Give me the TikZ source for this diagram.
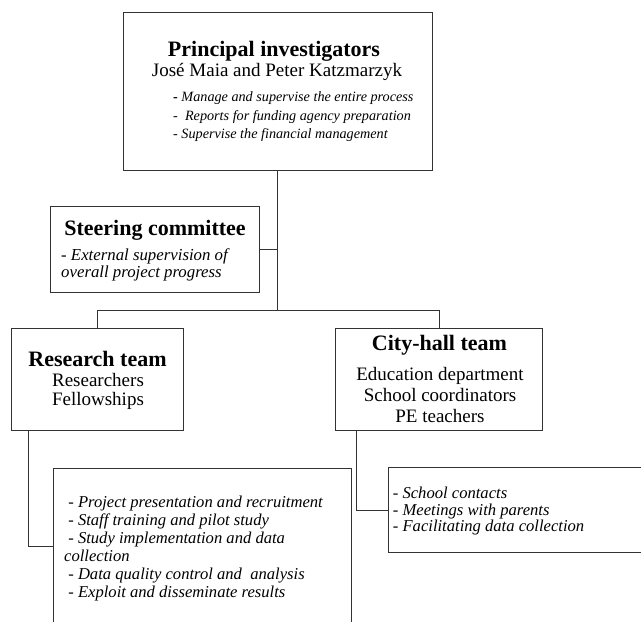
\documentclass[tikz,border=0pt]{standalone}
\usepackage{fontspec}
\setmainfont{Liberation Serif}
\usetikzlibrary{positioning}

\begin{document}
\begin{tikzpicture}[
  x=1pt, y=-1pt,
  box/.style  = {draw=black!80, line width=0.9pt, inner sep=0pt},
  head/.style = {anchor=base, inner sep=0pt, font=\fontsize{22}{24}\selectfont\bfseries},
  who/.style  = {anchor=base, inner sep=0pt, align=center, font=\fontsize{19}{19}\selectfont},
  duty/.style = {anchor=base west, inner sep=0pt, align=left, font=\fontsize{16.6}{18}\selectfont\itshape},
  link/.style = {draw=black!80, line width=0.9pt}
]
\useasboundingbox (0,0) rectangle (641,622);
\clip (0,0) rectangle (641,622);

% ================= Principal investigators =================
\node[box, minimum width=309pt, minimum height=158pt] (PI) at (277.5,91) {};
\node[head] (PIh) at (274,56.7) {Principal investigators};
\node[who]  (PIw) at (277,76) {José Maia and Peter Katzmarzyk};
\node[duty, font=\fontsize{14.2}{18.3}\selectfont\itshape] (PId) at (173,138.3)
  {\textbf{\upshape -} Manage and supervise the entire process\\
   -\ \ Reports for funding agency preparation\\
   - Supervise the financial management};

% ================= Steering committee =================
\node[box, minimum width=209pt, minimum height=86pt] (SC) at (154.7,249) {};
\node[head] (SCh) at (155,235) {Steering committee};
\node[duty, font=\fontsize{16.8}{16.3}\selectfont\itshape] (SCd) at (61,277)
  {- External supervision of\\ overall project progress};

% ================= Teams =================
\node[box, minimum width=172pt, minimum height=102pt] (RT) at (97.5,379.5) {};
\node[head] (RTh) at (97.5,366.7) {Research team};
\node[who]  (RTw) at (98,405) {Researchers\\ Fellowships};

\node[box, minimum width=207pt, minimum height=102pt] (CT) at (439.4,379.5) {};
\node[head] (CTh) at (439.5,350.7) {City-hall team};
\node[who, font=\fontsize{19}{21.3}\selectfont] (CTw) at (440,422.7)
  {Education department\\ School coordinators\\ PE teachers};

% ================= Team tasks =================
\node[box, minimum width=298pt, minimum height=156pt] (RA) at (202.9,546) {};
\node[duty] (RAd) at (64,597)
  {\ - Project presentation and recruitment\\
   \ - Staff training and pilot study\\
   \ - Study implementation and data\\
   collection\\
   \ - Data quality control and \ analysis\\
   \ - Exploit and disseminate results};

\node[box, minimum width=272pt, minimum height=85pt] (CA) at (524.3,510) {};
\node[duty, font=\fontsize{16.6}{16.7}\selectfont\itshape] (CAd) at (392.7,531.7)
  {- School contacts\\ - Meetings with parents\\ - Facilitating data collection};

% ================= Connectors =================
\coordinate (bus) at (PI.south |- 0,310.7);
\draw[link] (PI.south) -- (bus);
\draw[link] (SC.east) -- (SC.east -| PI.south);
\draw[link] (RT.north) |- (bus) -| (CT.north);
\draw[link] ([xshift=17.6pt]RT.south west) |- (RA.west);
\draw[link] ([xshift=20.7pt]CT.south west) |- (CA.west);

\end{tikzpicture}
\end{document}
